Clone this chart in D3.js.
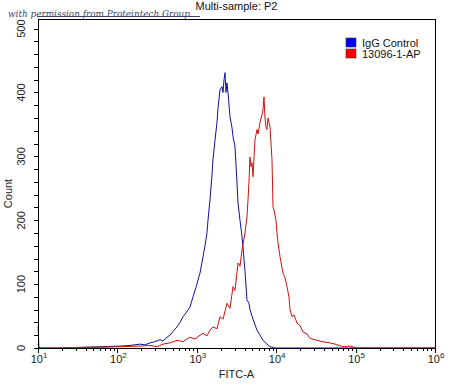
<!DOCTYPE html>
<html>
<head>
<meta charset="utf-8">
<script src="https://cdn.jsdelivr.net/npm/d3@7"></script>
<style>
  body { margin: 0; background: #fff; }
  text { font-family: Arial, "Liberation Sans", sans-serif; }
</style>
</head>
<body>
<div id="app"></div>
<script>
// values (FITC-A channel, count)
const blueFitc = [10, 10.3, 19, 34, 60, 108, 144, 193, 223, 258, 298, 344, 375, 422, 459, 501, 564, 614, 670,
  731, 820, 895, 977, 1096, 1197, 1268, 1343, 1384, 1466, 1552, 1600, 1694, 1795, 1849, 1959, 2075, 2138,
  2203, 2265, 2333, 2399, 2472, 2618, 2773, 2858, 3027, 3206, 3304, 3499, 3707, 3819, 4046, 4285, 4539,
  4677, 5105, 5728, 6252, 6823, 7656, 8356, 9661, 19953, 1000000];
const blueCount = [6, 0, 0, 1, 2, 3, 4, 6, 5, 8, 10, 13, 11, 17, 20, 26, 33, 40, 49,
  55, 64, 80, 95, 117, 143, 160, 180, 200, 232, 270, 295, 325, 353, 375, 404, 409, 400,
  420, 431, 400, 415, 400, 362, 345, 331, 315, 260, 227, 200, 175, 158, 120, 75, 70,
  60, 45, 28, 20, 12, 6, 2, 0, 0, 0];

const redFitc = [10, 10.3, 19, 34, 60, 108, 193, 258, 315, 375, 459, 564, 670, 820, 948, 1096, 1197, 1343,
  1466, 1600, 1795, 1959, 2138, 2399, 2618, 2858, 3027, 3304, 3499, 3707, 4046, 4285, 4416, 4539, 4677,
  4819, 4955, 5105, 5408, 5728, 5902, 6252, 6622, 6823, 7015, 7228, 7447, 7656, 7889, 8356, 8851, 9120,
  9376, 9931, 10233, 10544, 11169, 12190, 12912, 13677, 14488, 14928, 15812, 16749, 18281, 19953, 21777,
  24434, 26669, 32659, 37757, 47643, 55081, 69343, 84918, 98175, 113501, 1000000];
const redCount = [35, 0, 0, 1, 1, 2, 3, 4, 2, 6, 8, 12, 10, 17, 14, 20, 23, 19,
  28, 33, 30, 49, 45, 70, 62, 96, 90, 133, 128, 153, 180, 205, 232, 260, 299,
  284, 290, 268, 326, 342, 335, 353, 365, 373, 393, 360, 345, 342, 360, 346, 295, 221,
  216, 200, 180, 165, 143, 117, 110, 96, 80, 60, 49, 52, 39, 35, 25,
  22, 15, 12, 10, 8, 6, 2, 3, 1, 0, 0];

const seriesNames = ["IgG Control", "13096-1-AP"];
const seriesColors = ["#1010a0", "#d01010"];
const legendColors = ["#0000ff", "#ff0000"];
const yTicks = [0, 100, 200, 300, 400, 500];
const xDecades = [1, 2, 3, 4, 5, 6];

const w = 450;
const h = 384;
const padL = 38, padR = 435, padT = 19, padB = 348;

var svg = d3.select("#app")
  .append("svg")
  .attr("width", w)
  .attr("height", h);

var x = d3.scaleLog().domain([10, 1e6]).range([padL, padR]);
var y = d3.scaleLinear().domain([0, 515]).range([padB, padT]);

// watermark
svg.append("text")
  .attr("x", 8)
  .attr("y", 17)
  .style("font-family", "'DejaVu Serif', serif")
  .style("font-style", "italic")
  .style("font-size", "10px")
  .attr("textLength", 182)
  .attr("lengthAdjust", "spacingAndGlyphs")
  .attr("fill", "#3a4570")
  .text("with permission from Proteintech Group");
svg.append("line")
  .attr("x1", 37).attr("x2", 200)
  .attr("y1", 16.5).attr("y2", 16.5)
  .attr("stroke", "#3a4570")
  .attr("stroke-width", 1);

// title
svg.append("text")
  .attr("x", (padL + padR) / 2)
  .attr("y", 10)
  .attr("text-anchor", "middle")
  .attr("font-size", "11px")
  .attr("fill", "#111")
  .text("Multi-sample: P2");

// y axis ticks (minor every 20)
var yMinor = d3.range(0, 501, 20);
svg.selectAll(".ytick")
  .data(yMinor)
  .enter()
  .append("line")
  .attr("x1", padL - 4)
  .attr("x2", padL)
  .attr("y1", function (d) { return Math.round(y(d)) + 0.5; })
  .attr("y2", function (d) { return Math.round(y(d)) + 0.5; })
  .attr("stroke", "#000");

svg.selectAll(".ylab")
  .data(yTicks)
  .enter()
  .append("text")
  .attr("transform", function (d) { return "translate(25," + y(d) + ") rotate(-90)"; })
  .attr("text-anchor", "middle")
  .attr("font-size", "11px")
  .attr("fill", "#222")
  .text(function (d) { return d; });

svg.append("text")
  .attr("transform", "translate(12," + ((padT + padB) / 2 + 10) + ") rotate(-90)")
  .attr("text-anchor", "middle")
  .attr("font-size", "11px")
  .attr("fill", "#222")
  .text("Count");

// x axis ticks (log minor)
var xTickVals = x.ticks();
svg.selectAll(".xtick")
  .data(xTickVals)
  .enter()
  .append("line")
  .attr("x1", function (d) { return Math.round(x(d)) + 0.5; })
  .attr("x2", function (d) { return Math.round(x(d)) + 0.5; })
  .attr("y1", padB)
  .attr("y2", function (d) {
    var e = Math.log10(d);
    return padB + (Math.abs(e - Math.round(e)) < 1e-6 ? 5 : 3);
  })
  .attr("stroke", "#000");

var xl = svg.selectAll(".xlab")
  .data(xDecades)
  .enter()
  .append("text")
  .attr("x", function (d) { return x(Math.pow(10, d)) + 1; })
  .attr("y", 363)
  .attr("text-anchor", "middle")
  .attr("font-size", "11px")
  .attr("fill", "#222");
xl.append("tspan").text("10");
xl.append("tspan")
  .attr("dy", -5)
  .attr("font-size", "8px")
  .text(function (d) { return d; });

svg.append("text")
  .attr("x", (padL + padR) / 2)
  .attr("y", 378)
  .attr("text-anchor", "middle")
  .attr("font-size", "11px")
  .attr("fill", "#222")
  .text("FITC-A");

// histogram lines
var line = d3.line()
  .x(function (d) { return x(d[0]); })
  .y(function (d) { return y(d[1]); });

svg.append("path")
  .datum(d3.zip(blueFitc, blueCount))
  .attr("d", line)
  .attr("fill", "none")
  .attr("stroke", seriesColors[0])
  .attr("stroke-width", 1);

svg.append("path")
  .datum(d3.zip(redFitc, redCount))
  .attr("d", line)
  .attr("fill", "none")
  .attr("stroke", seriesColors[1])
  .attr("stroke-width", 1);

// frame
svg.append("rect")
  .attr("x", padL + 0.5)
  .attr("y", padT + 0.5)
  .attr("width", padR - padL)
  .attr("height", padB - padT)
  .attr("fill", "none")
  .attr("stroke", "#000");

// legend
var leg = svg.selectAll(".leg")
  .data(seriesNames)
  .enter()
  .append("g")
  .attr("transform", function (d, i) { return "translate(346," + (38 + i * 11) + ")"; });
leg.append("rect")
  .attr("width", 10)
  .attr("height", 9)
  .attr("fill", function (d, i) { return legendColors[i]; })
  .attr("stroke", "#333")
  .attr("stroke-width", 0.6);
leg.append("text")
  .attr("x", 16)
  .attr("y", 8.5)
  .attr("font-size", "11px")
  .attr("fill", "#111")
  .text(function (d) { return d; });
</script>
</body>
</html>
